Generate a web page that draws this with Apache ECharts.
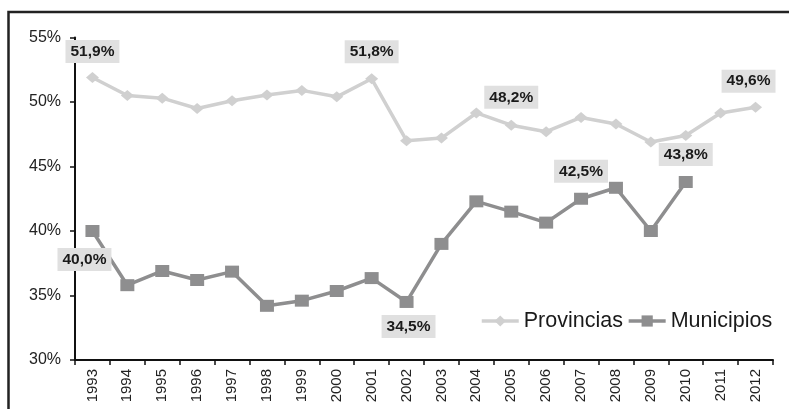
<!DOCTYPE html>
<html>
<head>
<meta charset="utf-8">
<script src="https://cdn.jsdelivr.net/npm/echarts@6/dist/echarts.min.js"></script>
<style>
html,body{margin:0;padding:0;background:#fff;}
#chart{width:789px;height:409px;}
</style>
</head>
<body>
<div id="chart"></div>
<script>
const years = ['1993','1994','1995','1996','1997','1998','1999','2000','2001','2002','2003','2004','2005','2006','2007','2008','2009','2010','2011','2012'];
const provincias = [51.9, 50.5, 50.3, 49.5, 50.1, 50.55, 50.9, 50.4, 51.8, 47.0, 47.2, 49.15, 48.2, 47.7, 48.8, 48.3, 46.9, 47.4, 49.15, 49.6];
const municipios = [40.0, 35.8, 36.9, 36.2, 36.85, 34.2, 34.6, 35.35, 36.35, 34.5, 39.0, 42.3, 41.5, 40.65, 42.5, 43.35, 40.0, 43.8, null, null];
const provLabeled = [0, 8, 12, 19];
const munLabeled = [0, 9, 14, 17];
const yTicks = [30, 35, 40, 45, 50, 55];

const FONT = 'Liberation Sans, Arial, Helvetica, sans-serif';
const fmt = v => v.toFixed(1).replace('.', ',') + '%';

const labelBase = {
  show: true,
  fontFamily: FONT,
  fontWeight: 'bold',
  fontSize: 15.5,
  lineHeight: 15,
  color: '#1a1a1a',
  backgroundColor: '#e0e0e0',
  padding: [4, 5],
  formatter: p => fmt(p.value)
};

const provLabelStyle = {
  0: {position: 'top', distance: 9, offset: [0, 0]},
  8: {position: 'top', distance: 10, offset: [0, 0]},
  12: {position: 'top', distance: 11, offset: [0, 0]},
  19: {position: 'top', distance: 9, offset: [-7, 0]}
};
const munLabelStyle = {
  0: {position: 'bottom', distance: 11, offset: [-8, 0]},
  9: {position: 'bottom', distance: 7, offset: [2, 0]},
  14: {position: 'top', distance: 10, offset: [0, 0]},
  17: {position: 'top', distance: 10, offset: [0, 0]}
};

function build(values, labeled, styles) {
  return values.map((v, i) => {
    if (labeled.indexOf(i) >= 0 && v != null) {
      return {value: v, label: Object.assign({}, labelBase, styles[i])};
    }
    return v;
  });
}

const chart = echarts.init(document.getElementById('chart'), null, {renderer: 'canvas'});
chart.setOption({
  animation: false,
  backgroundColor: '#fff',
  graphic: [{
    type: 'rect',
    shape: {x: 8.5, y: 12, width: 820, height: 440},
    style: {fill: 'none', stroke: '#222', lineWidth: 2.5},
    silent: true
  }],
  grid: {left: 75, right: 16, top: 37.5, bottom: 49, containLabel: false},
  legend: {
    left: 475,
    top: 305,
    itemWidth: 37,
    itemHeight: 14,
    itemGap: 4,
    lineStyle: {width: 3.5},
    textStyle: {fontFamily: FONT, fontSize: 21.5, color: '#1a1a1a'},
    data: ['Provincias', 'Municipios']
  },
  xAxis: {
    type: 'category',
    data: years,
    boundaryGap: true,
    axisLine: {lineStyle: {color: '#111', width: 2}},
    axisTick: {show: true, length: 5, lineStyle: {color: '#111', width: 1.5}},
    axisLabel: {rotate: 90, margin: 9, fontFamily: FONT, fontSize: 15, color: '#222', interval: 0},
    splitLine: {show: false}
  },
  yAxis: {
    type: 'value',
    min: yTicks[0],
    max: yTicks[yTicks.length - 1],
    interval: 5,
    axisLine: {show: true, lineStyle: {color: '#111', width: 2}},
    axisTick: {show: true, length: 5, lineStyle: {color: '#111', width: 1.5}},
    axisLabel: {margin: 14, fontFamily: FONT, fontSize: 16, color: '#222', formatter: '{value}%'},
    splitLine: {show: false}
  },
  series: [
    {
      name: 'Provincias',
      type: 'line',
      data: build(provincias, provLabeled, provLabelStyle),
      symbol: 'diamond',
      symbolSize: [13, 11],
      showAllSymbol: true,
      lineStyle: {color: '#d0d0d0', width: 3.5},
      itemStyle: {color: '#d0d0d0'},
      z: 2
    },
    {
      name: 'Municipios',
      type: 'line',
      data: build(municipios, munLabeled, munLabelStyle),
      symbol: 'rect',
      symbolSize: [14, 12],
      showAllSymbol: true,
      connectNulls: false,
      lineStyle: {color: '#8e8e8f', width: 3.5},
      itemStyle: {color: '#8e8e8f'},
      z: 3
    }
  ]
});
</script>
</body>
</html>
